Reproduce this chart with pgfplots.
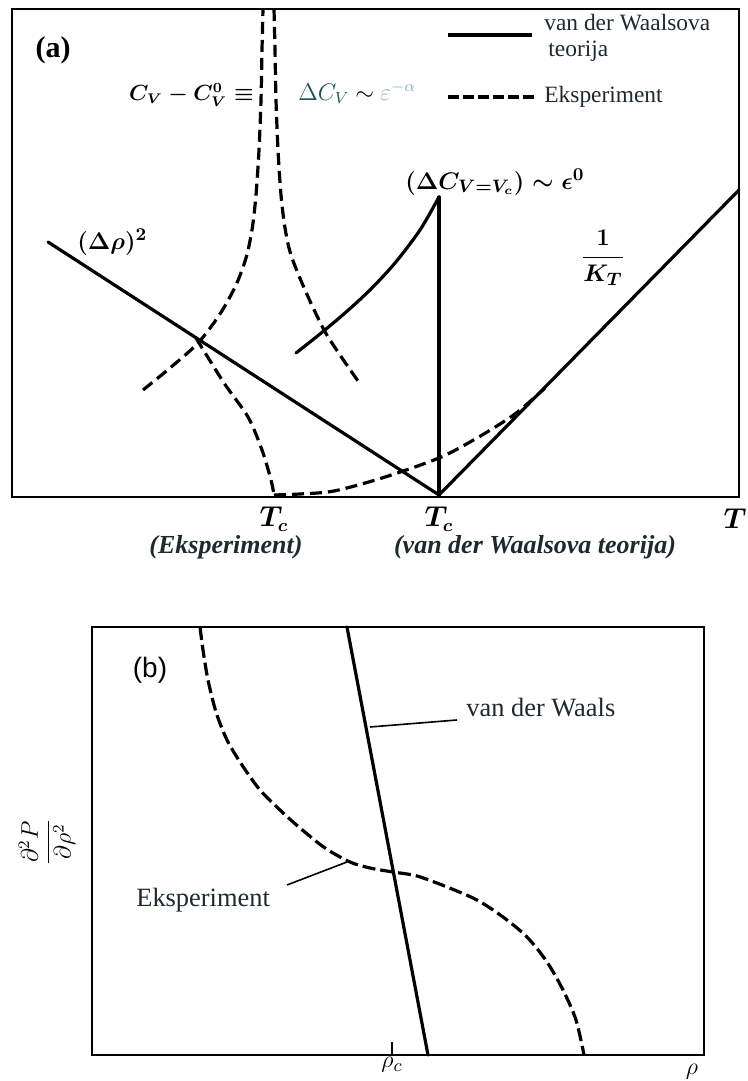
\documentclass[border=0pt]{standalone}
\usepackage{fontspec}
\setmainfont{Liberation Serif}
\newfontfamily\labelsans{Liberation Sans}
\usepackage{amsmath}
\usepackage{graphicx}
\usepackage{pgfplots}
\pgfplotsset{compat=1.18}

\definecolor{ink}{RGB}{28,42,48}
\definecolor{tealink}{RGB}{32,82,98}
\definecolor{paleblue}{RGB}{140,176,200}

\tikzset{
  theory/.style={black, line width=1.6pt, line cap=round},
  experiment/.style={black, line width=1.6pt, dash pattern=on 6pt off 3pt},
}
\pgfplotsset{
  panel/.style={
    scale only axis, clip=false,
    axis line style={line width=1pt, black},
    xtick=\empty, ytick=\empty,
  },
}

\begin{document}
\begin{tikzpicture}[x=0.5pt,y=0.5pt]
\path[use as bounding box] (0,0) rectangle (748,1081);

% ---------------- (a) ----------------
\begin{axis}[panel, at={(6pt,292pt)}, anchor=south west,
  width=363.5pt, height=244pt,
  xmin=12, xmax=739, ymin=-497, ymax=-9]

% van der Waals theory
\addplot[theory] coordinates {(48,-242) (439,-495)};
\addplot[theory] coordinates {(439,-495) (739,-190)};
\addplot[theory] coordinates {(439,-495) (439,-197)};
\addplot[theory, smooth] coordinates {
  (296,-353) (320,-334) (345,-313) (370,-290) (395,-263) (420,-230) (439,-197)};

% experiment
\addplot[experiment, smooth, tension=0.5] coordinates {
  (143,-390) (170,-368) (198,-343) (220,-314) (236,-285) (246,-258)
  (252,-230) (256,-195) (259,-150) (261,-100) (262,-50) (263,-9)};
\addplot[experiment, smooth, tension=0.5] coordinates {
  (274,-9) (275,-50) (276,-100) (278,-150) (281,-195) (285,-228)
  (291,-255) (305,-290) (324,-330) (340,-355) (358,-381)};
\addplot[experiment, smooth, tension=0.5] coordinates {
  (196,-338) (224,-383) (248,-417) (262,-450) (271,-480) (274,-495)};
\addplot[experiment, smooth, tension=0.5] coordinates {
  (274,-495) (300,-494) (334,-491) (382,-478) (439,-458) (477,-438)
  (515,-414) (545,-388)};

% key
\draw[theory, line cap=butt] (448,-35) -- (532,-35);
\draw[experiment, dash pattern=on 5.5pt off 2pt] (448,-97) -- (534,-97);
\node[anchor=west, inner sep=0, text=ink, font=\fontsize{11.7}{12}\selectfont] at (544,-23) {van der Waalsova};
\node[anchor=west, inner sep=0, text=ink, font=\fontsize{11.7}{12}\selectfont] at (548,-51) {teorija};
\node[anchor=west, inner sep=0, text=ink, font=\fontsize{11.7}{12}\selectfont] at (544,-97) {Eksperiment};

\node[font=\fontsize{15}{15}\selectfont\bfseries] at (53,-50) {(a)};
\node[anchor=east, inner sep=0, font=\fontsize{10.5}{11}\selectfont\boldmath] at (254,-95) {$C_V - C_V^{0} \equiv$};
\node[anchor=west, inner sep=0, font=\fontsize{12}{13}\selectfont] at (298,-93)
  {\textcolor{tealink}{$\Delta C_V$} $\sim$ \textcolor{paleblue}{$\varepsilon^{-\alpha}$}};
\node[anchor=west, inner sep=0, font=\fontsize{12.5}{13}\selectfont\boldmath] at (405,-182) {$(\Delta C_{V=V_c}) \sim \epsilon^{0}$};
\node[anchor=west, inner sep=0, font=\fontsize{12.5}{13}\selectfont\boldmath] at (77,-242) {$(\Delta\rho)^{2}$};
\node[font=\fontsize{12.5}{13}\selectfont\boldmath] at (603,-258) {$\dfrac{1}{K_T}$};

\node[font=\fontsize{13.5}{13}\selectfont\boldmath] at (274,-519) {$T_c$};
\node[font=\fontsize{13.5}{13}\selectfont\boldmath] at (439,-519) {$T_c$};
\node[font=\fontsize{13.5}{13}\selectfont\boldmath] at (735,-519) {$T$};
\node[text=ink, font=\fontsize{13}{13}\selectfont\bfseries\itshape] at (226,-547) {(Eksperiment)};
\node[text=ink, font=\fontsize{13}{13}\selectfont\bfseries\itshape] at (535,-547) {(van der Waalsova teorija)};
\end{axis}

% ---------------- (b) ----------------
\begin{axis}[panel, at={(46pt,13pt)}, anchor=south west,
  width=306pt, height=214pt,
  xmin=92, xmax=704, ymin=-1055, ymax=-627,
  xtick={392}, xticklabels={$\rho_c$}, xtick pos=bottom,
  tick align=inside, major tick length=6.5pt,
  tick style={black, line width=0.8pt},
  xticklabel style={font=\fontsize{13}{13}\selectfont, inner sep=1pt}]

\addplot[theory] coordinates {(347,-627) (428,-1055)};
\addplot[experiment, dash pattern=on 6.5pt off 2.5pt, smooth, tension=0.5] coordinates {
  (200,-627) (203,-650) (208,-680) (216,-712) (227,-740) (242,-765)
  (260,-790) (280,-810) (300,-828) (325,-848) (350,-862) (370,-868)
  (393,-872) (417,-876) (447,-887) (477,-900) (503,-917) (527,-937)
  (547,-962) (563,-990) (576,-1020) (584,-1055)};

% leaders
\draw[black, line width=0.8pt] (370,-727) -- (457,-720);
\draw[black, line width=0.8pt] (347,-862) -- (287,-885);

\node[font=\labelsans\fontsize{14}{14}\selectfont] at (150,-670) {(b)};
\node[anchor=west, inner sep=0, text=ink, font=\fontsize{13.2}{13}\selectfont] at (466,-708) {van der Waals};
\node[anchor=west, inner sep=0, text=ink, font=\fontsize{13.2}{13}\selectfont] at (136,-900) {Eksperiment};
\node[font=\fontsize{13}{13}\selectfont] at (692,-1072) {$\rho$};
\node[inner sep=0, font=\fontsize{12}{12}\selectfont] at (47,-842)
  {\rotatebox{90}{$\dfrac{\partial^{2}P}{\partial\rho^{2}}$}};
\end{axis}
\end{tikzpicture}
\end{document}
